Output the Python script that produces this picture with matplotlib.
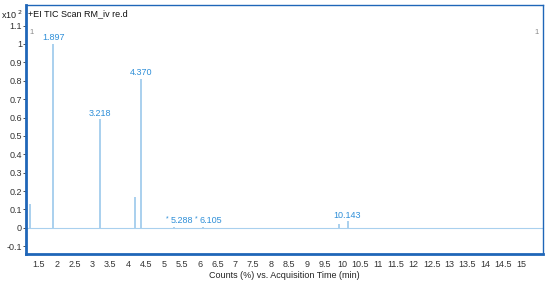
import matplotlib.pyplot as plt

plt.rcParams["font.family"] = ["Liberation Sans", "DejaVu Sans"]

# peaks of the TIC trace (retention time in min, relative counts x10^2)
peak_rt = [1.24, 1.897, 3.218, 4.20, 4.370, 5.288, 6.105, 9.90, 10.143]
peak_height = [0.13, 1.0, 0.59, 0.17, 0.81, 0.004, 0.006, 0.02, 0.035]

# labelled peaks
label_rt = [1.897, 3.218, 4.370, 10.143]
label_text = ["1.897", "3.218", "4.370", "10.143"]
label_y = [1.01, 0.60, 0.82, 0.045]

# small peaks marked with an asterisk
star_rt = [5.288, 6.105]
star_text = ["5.288", "6.105"]
star_y = 0.015

x_ticks = [1.5, 2, 2.5, 3, 3.5, 4, 4.5, 5, 5.5, 6, 6.5, 7, 7.5, 8, 8.5, 9, 9.5,
           10, 10.5, 11, 11.5, 12, 12.5, 13, 13.5, 14, 14.5, 15]
y_ticks = [-0.1, 0, 0.1, 0.2, 0.3, 0.4, 0.5, 0.6, 0.7, 0.8, 0.9, 1, 1.1]

line_col = "#a9d0ee"
text_col = "#2f8fd8"
frame_col = "#1f66b8"

fig = plt.figure(figsize=(5.5, 2.83), dpi=100)
ax = fig.add_axes([26 / 550, 29 / 283, 517 / 550, 249 / 283])

ax.axhline(0, color=line_col, lw=0.8, zorder=1)
ax.vlines(peak_rt, 0, peak_height, color=line_col, lw=1.4, zorder=2)

for rt, txt, yy in zip(label_rt, label_text, label_y):
    ax.text(rt, yy, txt, color=text_col, fontsize=6.5, ha="center", va="bottom")

for rt, txt in zip(star_rt, star_text):
    ax.annotate(txt, (rt, star_y), xytext=(-4, 0), textcoords="offset pixels",
                color=text_col, fontsize=6.5, ha="left", va="bottom")
    ax.annotate("*", (rt, star_y), xytext=(-6, 3), textcoords="offset pixels",
                color=text_col, fontsize=5, ha="right", va="bottom")

ax.set_xlim(1.136, 15.62)
ax.set_ylim(-0.142, 1.212)
ax.set_xticks(x_ticks)
ax.set_xticklabels([f"{t:g}" for t in x_ticks])
ax.set_yticks(y_ticks)
ax.set_yticklabels([f"{t:g}" for t in y_ticks])
ax.tick_params(axis="both", labelsize=6.5, colors="#333333", length=2, width=0.6)
ax.tick_params(axis="x", length=0, pad=4)
ax.tick_params(axis="y", pad=1)

for side in ["top", "right"]:
    ax.spines[side].set_color(frame_col)
    ax.spines[side].set_linewidth(1.0)
for side in ["left", "bottom"]:
    ax.spines[side].set_color(frame_col)
    ax.spines[side].set_linewidth(2.0)

ax.text(0.003, 0.985, "+EI TIC Scan RM_iv re.d", transform=ax.transAxes,
        fontsize=6.5, color="#111111", ha="left", va="top")
ax.text(0.006, 0.905, "1", transform=ax.transAxes, fontsize=5.5,
        color="#888888", ha="left", va="top")
ax.text(0.992, 0.905, "1", transform=ax.transAxes, fontsize=5.5,
        color="#888888", ha="right", va="top")
fig.text(1 / 550, 1 - 15 / 283, r"x10$^{\ 2}$", fontsize=6.5, color="#222222",
         ha="left", va="center")

ax.set_xlabel("Counts (%) vs. Acquisition Time (min)", fontsize=6.5,
              color="#222222", labelpad=2)

fig.savefig("out.png", dpi=100)
